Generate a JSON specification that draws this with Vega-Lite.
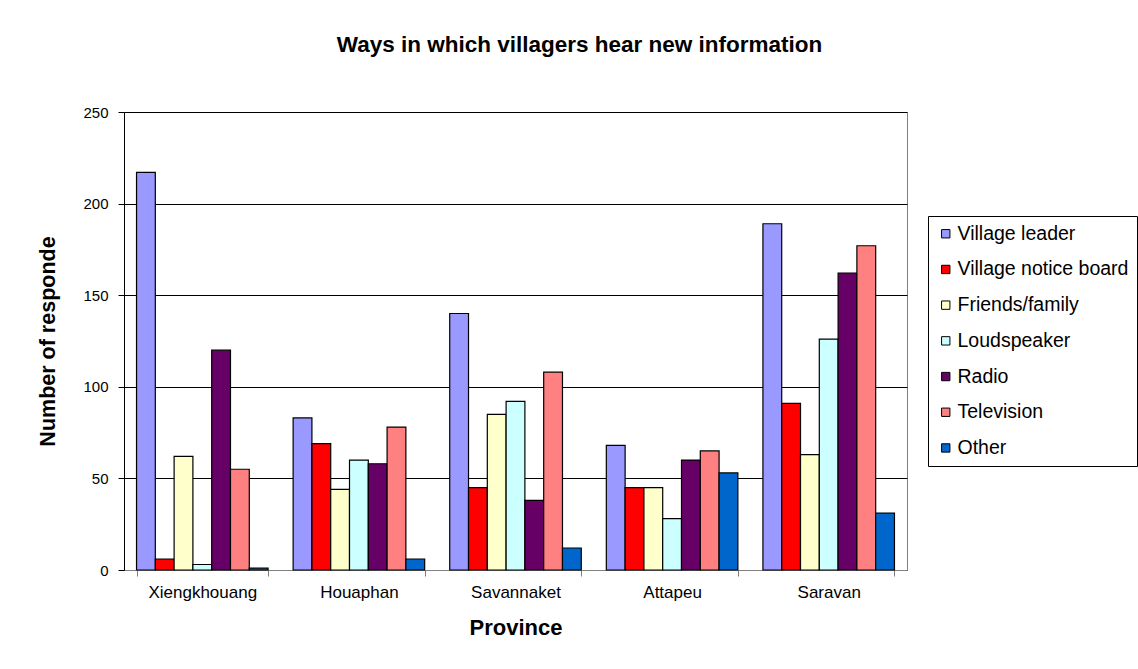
{
  "$schema": "https://vega.github.io/schema/vega-lite/v6.json",
  "autosize": "none",
  "width": 783,
  "height": 458,
  "padding": {"left": 124, "top": 112, "right": 231, "bottom": 99},
  "background": "white",
  "config": {
    "font": "Liberation Sans",
    "view": {"stroke": "#808080", "strokeWidth": 1}
  },
  "title": {
    "text": "Ways in which villagers hear new information",
    "font": "Liberation Sans",
    "fontSize": 22.5,
    "fontWeight": "bold",
    "color": "#000000",
    "anchor": "middle",
    "dx": 64,
    "offset": 49
  },
  "data": {
    "values": [
      {"province": "Xiengkhouang", "source": "Village leader", "count": 217},
      {"province": "Xiengkhouang", "source": "Village notice board", "count": 6},
      {"province": "Xiengkhouang", "source": "Friends/family", "count": 62},
      {"province": "Xiengkhouang", "source": "Loudspeaker", "count": 3},
      {"province": "Xiengkhouang", "source": "Radio", "count": 120},
      {"province": "Xiengkhouang", "source": "Television", "count": 55},
      {"province": "Xiengkhouang", "source": "Other", "count": 1},
      {"province": "Houaphan", "source": "Village leader", "count": 83},
      {"province": "Houaphan", "source": "Village notice board", "count": 69},
      {"province": "Houaphan", "source": "Friends/family", "count": 44},
      {"province": "Houaphan", "source": "Loudspeaker", "count": 60},
      {"province": "Houaphan", "source": "Radio", "count": 58},
      {"province": "Houaphan", "source": "Television", "count": 78},
      {"province": "Houaphan", "source": "Other", "count": 6},
      {"province": "Savannaket", "source": "Village leader", "count": 140},
      {"province": "Savannaket", "source": "Village notice board", "count": 45},
      {"province": "Savannaket", "source": "Friends/family", "count": 85},
      {"province": "Savannaket", "source": "Loudspeaker", "count": 92},
      {"province": "Savannaket", "source": "Radio", "count": 38},
      {"province": "Savannaket", "source": "Television", "count": 108},
      {"province": "Savannaket", "source": "Other", "count": 12},
      {"province": "Attapeu", "source": "Village leader", "count": 68},
      {"province": "Attapeu", "source": "Village notice board", "count": 45},
      {"province": "Attapeu", "source": "Friends/family", "count": 45},
      {"province": "Attapeu", "source": "Loudspeaker", "count": 28},
      {"province": "Attapeu", "source": "Radio", "count": 60},
      {"province": "Attapeu", "source": "Television", "count": 65},
      {"province": "Attapeu", "source": "Other", "count": 53},
      {"province": "Saravan", "source": "Village leader", "count": 189},
      {"province": "Saravan", "source": "Village notice board", "count": 91},
      {"province": "Saravan", "source": "Friends/family", "count": 63},
      {"province": "Saravan", "source": "Loudspeaker", "count": 126},
      {"province": "Saravan", "source": "Radio", "count": 162},
      {"province": "Saravan", "source": "Television", "count": 177},
      {"province": "Saravan", "source": "Other", "count": 31}
    ]
  },
  "mark": {"type": "bar", "stroke": "#000000", "strokeWidth": 1.2},
  "encoding": {
    "x": {
      "field": "province",
      "type": "nominal",
      "sort": ["Xiengkhouang", "Houaphan", "Savannaket", "Attapeu", "Saravan"],
      "scale": {"paddingInner": 0.16, "paddingOuter": 0.08},
      "axis": {
        "title": "Province",
        "titleFontSize": 22,
        "titleFontWeight": "bold",
        "titleColor": "#000000",
        "titlePadding": 17,
        "labelAngle": 0,
        "labelFontSize": 17,
        "labelColor": "#000000",
        "labelPadding": 8,
        "tickBand": "extent",
        "tickSize": 6,
        "tickColor": "#808080",
        "domainColor": "#808080",
        "grid": false
      }
    },
    "xOffset": {
      "field": "source",
      "type": "nominal",
      "sort": ["Village leader", "Village notice board", "Friends/family", "Loudspeaker", "Radio", "Television", "Other"]
    },
    "y": {
      "field": "count",
      "type": "quantitative",
      "scale": {"domain": [0, 250]},
      "axis": {
        "title": "Number of responde",
        "titleFontSize": 21.5,
        "titleFontWeight": "bold",
        "titleColor": "#000000",
        "titlePadding": 23,
        "values": [0, 50, 100, 150, 200, 250],
        "labelFontSize": 15,
        "labelColor": "#000000",
        "labelPadding": 10,
        "tickSize": 6,
        "tickColor": "#000000",
        "domainColor": "#000000",
        "grid": true,
        "gridColor": "#000000",
        "gridWidth": 1
      }
    },
    "color": {
      "field": "source",
      "type": "nominal",
      "sort": ["Village leader", "Village notice board", "Friends/family", "Loudspeaker", "Radio", "Television", "Other"],
      "scale": {
        "domain": ["Village leader", "Village notice board", "Friends/family", "Loudspeaker", "Radio", "Television", "Other"],
        "range": ["#9999FF", "#FF0000", "#FFFFCC", "#CCFFFF", "#660066", "#FF8080", "#0066CC"]
      },
      "legend": {
        "title": null,
        "orient": "none",
        "legendX": 804,
        "legendY": 104,
        "padding": 8,
        "strokeColor": "#000000",
        "fillColor": "#ffffff",
        "symbolType": "square",
        "symbolSize": 70,
        "symbolStrokeColor": "#000000",
        "symbolStrokeWidth": 1,
        "symbolOpacity": 1,
        "labelFontSize": 19.5,
        "labelColor": "#000000",
        "labelOffset": 2,
        "rowPadding": 14.7,
        "labelLimit": 300
      }
    }
  }
}
